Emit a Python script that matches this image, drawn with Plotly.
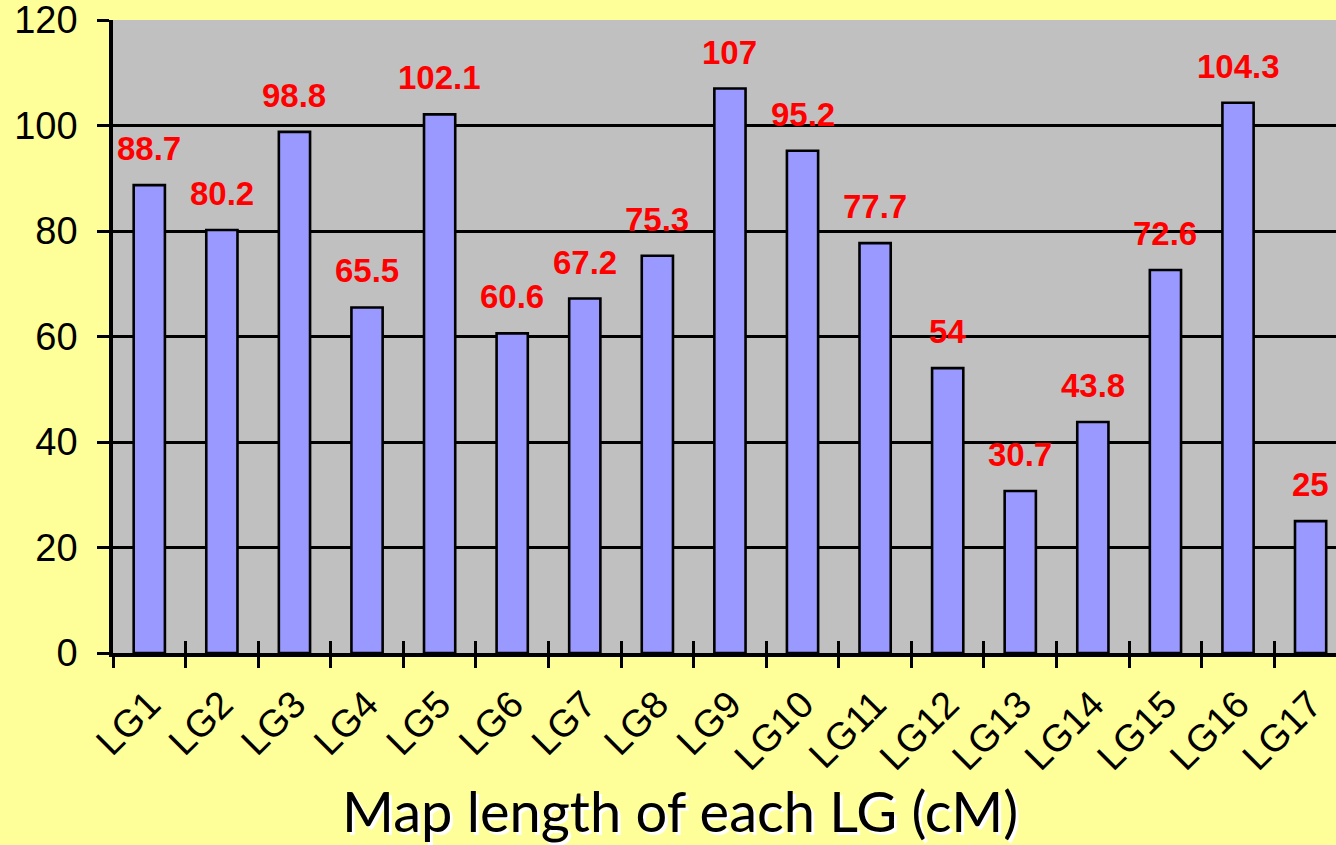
import plotly.graph_objects as go

categories = ["LG1", "LG2", "LG3", "LG4", "LG5", "LG6", "LG7", "LG8", "LG9",
              "LG10", "LG11", "LG12", "LG13", "LG14", "LG15", "LG16", "LG17"]
lengths = [88.7, 80.2, 98.8, 65.5, 102.1, 60.6, 67.2, 75.3, 107,
           95.2, 77.7, 54, 30.7, 43.8, 72.6, 104.3, 25]
label_texts = ["88.7", "80.2", "98.8", "65.5", "102.1", "60.6", "67.2", "75.3", "107",
               "95.2", "77.7", "54", "30.7", "43.8", "72.6", "104.3", "25"]
y_ticks = [0, 20, 40, 60, 80, 100, 120]
title_text = "Map length of each LG (cM)"

W, H = 1336, 845
ML, MT, MB, MR = 113, 20, 192, 0

fig = go.Figure()
fig.add_trace(go.Bar(
    x=categories, y=lengths,
    marker=dict(color="#9999FF", line=dict(color="black", width=2.6)),
    width=0.43, showlegend=False, hoverinfo="x+y",
))
# invisible helper trace to draw the inner half of crossing ticks
fig.add_trace(go.Scatter(x=categories, y=lengths, xaxis="x2", yaxis="y2",
                         mode="markers", marker=dict(opacity=0), showlegend=False,
                         hoverinfo="skip"))

for c, v, t in zip(categories, lengths, label_texts):
    fig.add_annotation(x=c, y=v, text="<b>%s</b>" % t, showarrow=False,
                       xanchor="center", yanchor="bottom", yshift=16,
                       font=dict(family="Liberation Sans, Arial", size=33, color="#FF0000"))

xr = [-0.5, 16.35]
fig.update_layout(
    width=W, height=H,
    margin=dict(l=ML, r=MR, t=MT, b=MB, autoexpand=False),
    paper_bgcolor="#FFFF99",
    plot_bgcolor="#C0C0C0",
    bargap=0.57,
    xaxis=dict(type="category", categoryorder="array", categoryarray=categories,
               range=xr, tickson="boundaries", ticks="outside", ticklen=11,
               tickwidth=3, tickcolor="black", showline=True, linecolor="black",
               linewidth=3.5, showgrid=False, tickangle=-45, ticklabelstandoff=10,
               tickfont=dict(family="Liberation Sans, Arial", size=38, color="black"),
               zeroline=False),
    xaxis2=dict(type="category", categoryorder="array", categoryarray=categories,
                range=xr, overlaying="x", side="bottom", tickson="boundaries",
                ticks="inside", ticklen=12, tickwidth=3, tickcolor="black",
                showticklabels=False, showgrid=False, showline=False, zeroline=False),
    yaxis=dict(range=[0, 120], tickvals=y_ticks, ticks="outside", ticklen=12,
               tickwidth=3, tickcolor="black", showline=True, linecolor="black",
               linewidth=3.5, showgrid=True, gridcolor="black", gridwidth=2.5,
               zeroline=False, ticklabelstandoff=12, ticklabeloverflow="allow",
               tickfont=dict(family="Liberation Sans, Arial", size=38, color="black")),
    yaxis2=dict(range=[0, 120], tickvals=y_ticks, overlaying="y", side="left",
                ticks="inside", ticklen=14, tickwidth=3, tickcolor="black",
                showticklabels=False, showgrid=False, showline=False, zeroline=False),
)

fig.add_annotation(text=title_text, xref="paper", yref="paper",
                   x=(680 - ML) / (W - ML - MR), y=-(810 - (H - MB)) / (H - MT - MB),
                   xanchor="center", yanchor="middle", showarrow=False,
                   font=dict(family="Lato, Open Sans", size=56, color="black",
                             shadow="3px 3px 0px white"))

fig.write_html("out.html", config={"displayModeBar": False},
               post_script="document.body.style.margin='0px';document.body.style.overflow='hidden';")
